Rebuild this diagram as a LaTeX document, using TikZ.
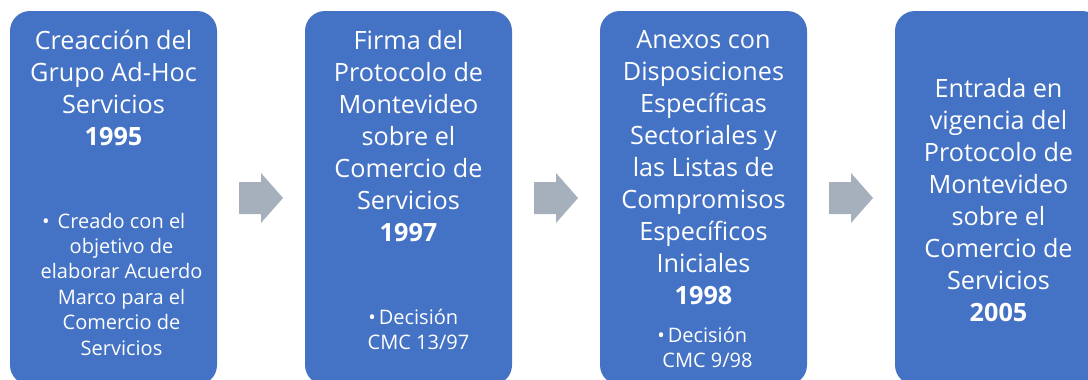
\documentclass[tikz,border=0pt]{standalone}
\usepackage{fontspec}
\setmainfont{Open Sans}
\usetikzlibrary{calc}
\definecolor{stageblue}{HTML}{4472C4}
\definecolor{arrowgrey}{HTML}{A6B0BC}
\tikzset{
  stage/.style={fill=stageblue, rounded corners=20pt, minimum width=207pt, minimum height=374pt, inner sep=0pt},
  stagetitle/.style={anchor=north, align=center, text=white, inner sep=0pt, font=\fontsize{25.2}{32}\selectfont},
  stagenote/.style={anchor=north, align=center, text=white, inner sep=0pt, font=\fontsize{20}{25.4}\selectfont},
  flecha/.style={fill=arrowgrey}
}
\begin{document}
\begin{tikzpicture}[x=1pt, y=-1pt]
\useasboundingbox (0,0) rectangle (1088,380);

% Stage boxes
\node[stage] (s1) at (113.5,198) {};
\node[stage] (s2) at (408.5,198) {};
\node[stage] (s3) at (703.5,198) {};
\node[stage] (s4) at (998.5,198) {};

% Arrows between stages
\foreach \a/\b in {s1/s2, s2/s3, s3/s4} {
  \coordinate (m) at ($(\a.east)!0.5!(\b.west)$);
  \fill[flecha] ($(m)+(-22,-16)$) -- ++(22,0) -- ++(0,-9) -- ++(22,25) -- ++(-22,25) -- ++(0,-9) -- ++(-22,0) -- cycle;
}

% Titles
\node[stagetitle] (t1) at ($(s1.north)+(0,19)$) {Creacción del\\Grupo Ad-Hoc\\Servicios\\\textbf{1995}};
\node[stagetitle] (t2) at ($(s2.north)+(0,19)$) {Firma del\\Protocolo de\\Montevideo\\sobre el\\Comercio de\\Servicios\\\textbf{1997}};
\node[stagetitle] (t3) at ($(s3.north)+(0,19)$) {Anexos con\\Disposiciones\\Específicas\\Sectoriales y\\las Listas de\\Compromisos\\Específicos\\Iniciales\\\textbf{1998}};
\node[stagetitle] (t4) at ($(s4.north)+(0,67)$) {Entrada en\\vigencia del\\Protocolo de\\Montevideo\\sobre el\\Comercio de\\Servicios\\\textbf{2005}};

% Notes
\node[stagenote] (n1) at ($(s1.north)+(8,202)$) {\llap{•\hspace{8pt}}Creado con el\\objetivo de\\elaborar Acuerdo\\Marco para el\\Comercio de\\Servicios};
\node[stagenote] (n2) at ($(s2.north)+(10,298)$) {\llap{•\hspace{3pt}}Decisión\\CMC 13/97};
\node[stagenote] (n3) at ($(s3.north)+(4,316)$) {\llap{•\hspace{3pt}}Decisión\\CMC 9/98};

\end{tikzpicture}
\end{document}
